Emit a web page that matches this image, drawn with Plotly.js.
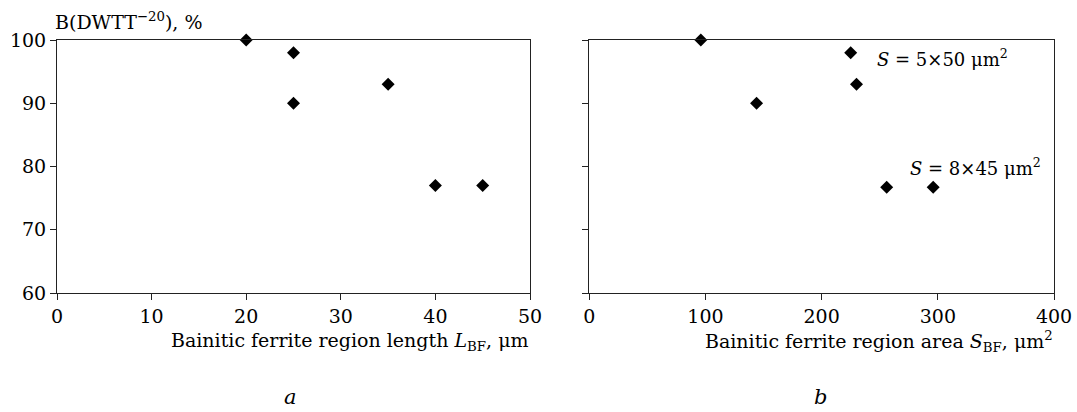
<!DOCTYPE html>
<html><head><meta charset="utf-8">
<script src="https://cdn.plot.ly/plotly-3.0.1.min.js"></script>
<style>html,body{margin:0;padding:0;background:#fff}#c{width:1077px;height:412px}</style>
</head><body><div id="c"></div>
<script>
const lengthX = [20, 25, 25, 35, 40, 45];
const lengthY = [100, 98, 90, 93, 77, 77];
const areaX = [96, 144, 225, 230, 256, 296];
const areaY = [100, 90, 98, 93, 76.7, 76.7];
const xTicksA = [0, 10, 20, 30, 40, 50];
const xTicksB = [0, 100, 200, 300, 400];
const yTicks = [60, 70, 80, 90, 100];

const W = 1077, H = 412;
const font = {family: '"DejaVu Serif", serif', size: 19, color: '#000'};
const mk = {symbol: 'diamond', size: 10, color: '#000', line: {width: 0}};
const traces = [
  {x: lengthX, y: lengthY, type: 'scatter', mode: 'markers', marker: mk, xaxis: 'x', yaxis: 'y', cliponaxis: false},
  {x: areaX, y: areaY, type: 'scatter', mode: 'markers', marker: mk, xaxis: 'x2', yaxis: 'y2', cliponaxis: false}
];
const ax = {
  showgrid: false, zeroline: false, showline: true, linecolor: '#222', linewidth: 1, mirror: true,
  ticks: 'outside', ticklen: 6, tickcolor: '#222', tickwidth: 1, tickfont: font
};
const yb = 1 - 293 / H, yt = 1 - 40 / H;
const ann = (x, y, text, xa, f) => ({xref: 'paper', yref: 'paper', x: x / W, y: 1 - y / H, xanchor: xa, yanchor: 'middle',
  showarrow: false, text: text, font: f || font});
const layout = {
  width: W, height: H, margin: {l: 0, r: 0, t: 0, b: 0},
  paper_bgcolor: '#fff', plot_bgcolor: '#fff', showlegend: false, font: font,
  xaxis: Object.assign({}, ax, {domain: [57 / W, 530 / W], range: [0, 50], tickvals: xTicksA, anchor: 'y'}),
  yaxis: Object.assign({}, ax, {domain: [yb, yt], range: [60, 100], tickvals: yTicks, anchor: 'x'}),
  xaxis2: Object.assign({}, ax, {domain: [589.3 / W, 1054 / W], range: [0, 400], tickvals: xTicksB, anchor: 'y2'}),
  yaxis2: Object.assign({}, ax, {domain: [yb, yt], range: [60, 100], tickvals: yTicks, showticklabels: false, anchor: 'x2'}),
  annotations: [
    ann(53, 21, 'B(DWTT<sup>\u221220</sup>), %', 'left'),
    ann(531, 341, 'Bainitic ferrite region length <i>L</i><sub>BF</sub>, \u03bcm', 'right'),
    ann(1055, 341, 'Bainitic ferrite region area <i>S</i><sub>BF</sub>, \u03bcm<sup>2</sup>', 'right'),
    ann(290, 397, '<i>a</i>', 'center', Object.assign({}, font, {size: 21})),
    ann(820, 397, '<i>b</i>', 'center', Object.assign({}, font, {size: 21})),
    ann(875, 58, '<i>S</i> = 5\u00d750 \u03bcm<sup>2</sup>', 'left', Object.assign({}, font, {size: 18})),
    ann(908, 167, '<i>S</i> = 8\u00d745 \u03bcm<sup>2</sup>', 'left', Object.assign({}, font, {size: 18}))
  ]
};
Plotly.newPlot('c', traces, layout, {displayModeBar: false, staticPlot: true});
</script></body></html>
